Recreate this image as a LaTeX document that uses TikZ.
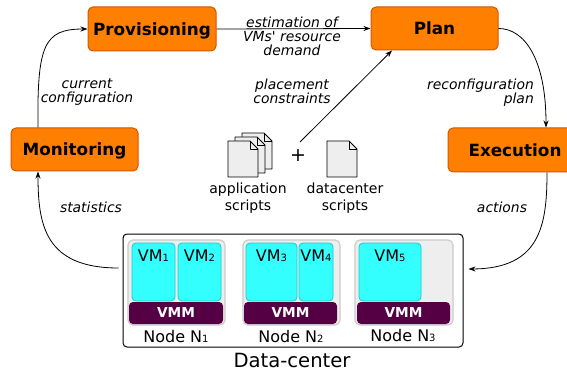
\documentclass[tikz,border=0pt]{standalone}
\usepackage{fontspec}
\setmainfont{DejaVu Sans}
\usetikzlibrary{arrows.meta}
\definecolor{boxorange}{RGB}{255,128,0}
\definecolor{boxborder}{RGB}{212,85,0}
\definecolor{vmcyan}{RGB}{51,255,255}
\definecolor{vmborder}{RGB}{30,200,200}
\definecolor{vmmpurple}{RGB}{85,0,68}
\definecolor{nodegray}{RGB}{238,238,238}
\definecolor{nodeborder}{RGB}{204,204,204}
\newcommand\sbs[1]{\raisebox{-0.8pt}{\fontsize{10}{10}\selectfont #1}}
\tikzset{
 phase/.style={draw=boxborder, fill=boxorange, line width=1pt, rounded corners=5pt,
   font=\fontsize{16.8}{20}\selectfont\bfseries, inner sep=0pt, text height=12.3pt, text depth=0pt},
 lbl/.style={font=\fontsize{13.9}{14}\selectfont\itshape, align=center, inner sep=0pt},
 plain/.style={font=\fontsize{14}{17}\selectfont, align=center, inner sep=0pt},
 arr/.style={-{Stealth[length=7pt,width=5pt]}, line width=0.8pt},
 nodebox/.style={draw=nodeborder, fill=nodegray, line width=1.2pt, rounded corners=5pt,
   minimum height=85pt, inner sep=0pt},
 vm/.style={draw=vmborder, fill=vmcyan, line width=0.8pt, rounded corners=4pt,
   minimum height=58pt, inner sep=0pt},
 vmtext/.style={font=\fontsize{16}{16}\selectfont, anchor=base, inner sep=0pt},
 vmm/.style={fill=vmmpurple, rounded corners=4pt, minimum height=22pt, inner sep=0pt,
   text=white, font=\fontsize{13.7}{14}\selectfont\bfseries},
 dc/.style={draw=black, fill=white, line width=1pt, rounded corners=4pt,
   minimum width=340pt, minimum height=113pt, inner sep=0pt},
 docpage/.pic={
   \draw[fill=nodegray, line width=0.8pt, line join=round] (0,0) -- (22,0) -- (30,8) -- (30,36) -- (0,36) -- cycle;
   \draw[line width=0.8pt, line join=round] (22,0) -- (22,8) -- (30,8);}
}
\begin{document}
\begin{tikzpicture}[x=1pt,y=-1pt]
\useasboundingbox (0,0) rectangle (567,374);
\clip (0,0) rectangle (567,374);
% phases
\node[phase, minimum width=128pt, minimum height=44pt] (prov) at (152,29) {Provisioning};
\node[phase, minimum width=127pt, minimum height=43pt] (plan) at (434.5,28.5) {Plan};
\node[phase, minimum width=127pt, minimum height=43pt] (mon) at (74.5,149.5) {Monitoring};
\node[phase, minimum width=134pt, minimum height=44pt] (exec) at (515,150) {Execution};
% data-center
\node[dc] (dc) at (293,290.5) {};
\node[nodebox, minimum width=97pt] (n1) at (176.5,282.5) {};
\node[nodebox, minimum width=97pt] (n2) at (291.5,282.5) {};
\node[nodebox, minimum width=98pt] (n3) at (404,282.5) {};
\node[vm, minimum width=43pt] (vm1) at (153.5,272) {};
\node[vm, minimum width=43pt] (vm2) at (199.5,272) {};
\node[vm, minimum width=51pt] (vm3) at (271.5,272) {};
\node[vm, minimum width=34pt] (vm4) at (316,272) {};
\node[vm, minimum width=62pt] (vm5) at (390,272) {};
\node[vmtext] (vm1t) at (153.5,261) {VM\sbs{1}};
\node[vmtext] (vm2t) at (199.5,261) {VM\sbs{2}};
\node[vmtext] (vm3t) at (271.5,261) {VM\sbs{3}};
\node[vmtext] (vm4t) at (316,261) {VM\sbs{4}};
\node[vmtext] (vm5t) at (390,261) {VM\sbs{5}};
\node[vmm, minimum width=94pt] (vmm1) at (176,313) {VMM};
\node[vmm, minimum width=93pt] (vmm2) at (290.5,313) {VMM};
\node[vmm, minimum width=93pt] (vmm3) at (403.5,313) {VMM};
\node[vmtext] (n1t) at (176,342) {Node N\sbs{1}};
\node[vmtext] (n2t) at (291,342) {Node N\sbs{2}};
\node[vmtext] (n3t) at (403,341) {Node N\sbs{3}};
\node[font=\fontsize{19.6}{20}\selectfont, anchor=base, inner sep=0pt] (dct) at (292,367) {Data-center};
% scripts
\pic at (242,133) {docpage};
\pic at (235,137) {docpage};
\pic at (228,141) {docpage};
\pic at (327,141) {docpage};
\node[font=\fontsize{19}{20}\selectfont, inner sep=0pt] (plus) at (298,156) {+};
\coordinate (plusarrow) at (300,142);
\node[plain] (appt) at (248,198) {application\\scripts};
\node[plain] (dct2) at (345,198) {datacenter\\scripts};
% labels
\node[lbl] (l1) at (292,36.5) {estimation of\\VMs\textquotesingle{} resource\\demand};
\node[lbl] (l2) at (292,91.5) {placement\\constraints};
\node[lbl] (l3) at (87,92.5) {current\\configuration};
\node[lbl, align=right, anchor=east] (l4) at (534,92.5) {reconfiguration\\plan};
\node[lbl, anchor=base] (l5) at (91,212) {statistics};
\node[lbl, anchor=base] (l6) at (502,212) {actions};
% connectors
\draw[arr] ([xshift=-36.5pt]mon.north) .. controls (37,45) and (44,29) .. (prov.west);
\draw[arr] (prov.east) -- (plan.west);
\draw[arr] (plan.east) .. controls (525,28.5) and (546,60) .. ([xshift=31pt]exec.north);
\draw[arr] ([xshift=32pt]exec.south) .. controls (547,226) and (540,268.5) .. ([xshift=5pt,yshift=21.5pt]dc.east);
\draw[arr] ([xshift=-4pt,yshift=22.5pt]dc.west) .. controls (45,268) and (38,225) .. ([xshift=-36.5pt]mon.south);
\draw[arr] (plusarrow) -- ([xshift=-42.5pt]plan.south);
\end{tikzpicture}
\end{document}
